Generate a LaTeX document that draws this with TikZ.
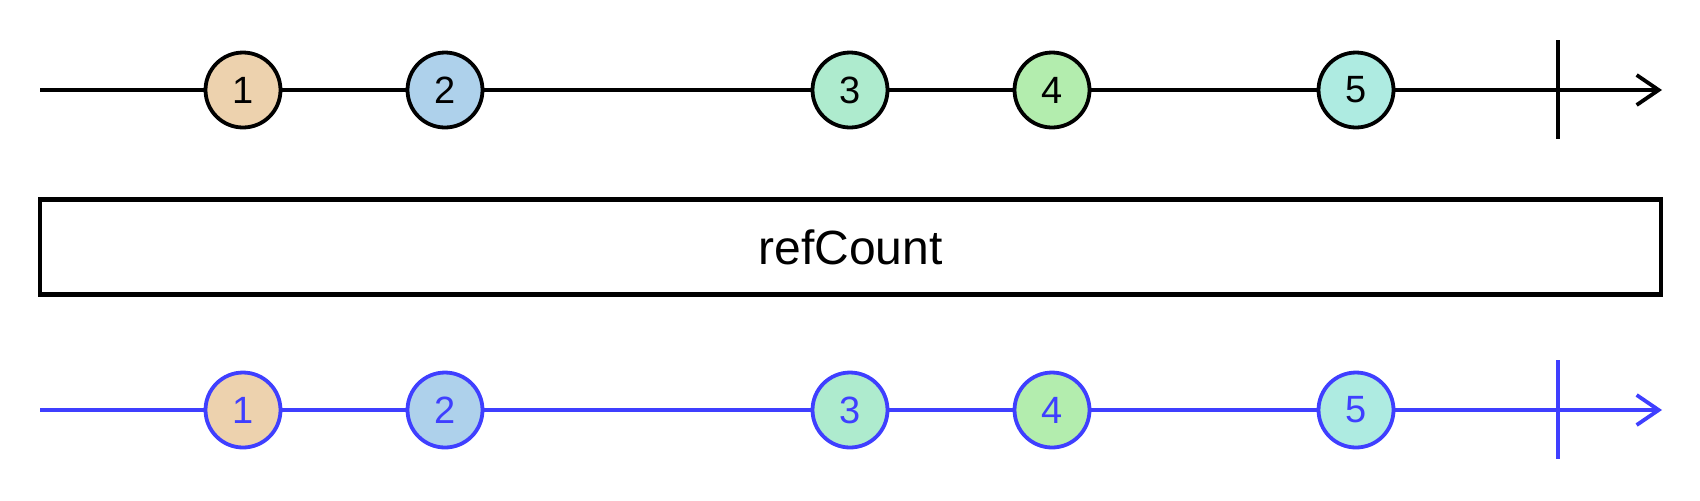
\documentclass[tikz,border=0pt]{standalone}
\usepackage{fontspec}
\setmainfont{Liberation Sans}
\usetikzlibrary{arrows.meta}
\definecolor{cA}{HTML}{EDD2AE}
\definecolor{cB}{HTML}{AED1EB}
\definecolor{cC}{HTML}{AEEBCE}
\definecolor{cD}{HTML}{B3EDAE}
\definecolor{cE}{HTML}{AEEBE1}
\definecolor{outblue}{HTML}{3F3FFF}
\tikzset{
  marble/.style={circle, draw=#1, line width=1.9pt, minimum size=37.5pt, inner sep=0pt, font=\fontsize{19}{19}\selectfont, text=#1},
  timeline/.style={draw=#1, line width=1.9pt, -{Straight Barb[length=11pt,width=15pt,line width=1.9pt]}},
  termline/.style={draw=#1, line width=1.9pt},
  opbox/.style={draw=black, line width=2.1pt, minimum width=810.5pt, minimum height=47.5pt, inner sep=0pt, font=\fontsize{24}{24}\selectfont}
}
\begin{document}
\begin{tikzpicture}[x=0.5pt,y=-0.5pt]
\useasboundingbox (0,0) rectangle (1700,500);
% top timeline
\coordinate (s1) at (40,90);
\coordinate (e1) at (1662,90);
\draw[timeline=black] (s1) -- (e1);
\coordinate (t1a) at (1558,40);
\coordinate (t1b) at (1558,139);
\draw[termline=black] (t1a) -- (t1b);
\node[marble=black, fill=cA] (a1) at (243,90) {1};
\node[marble=black, fill=cB] (a2) at (445,90) {2};
\node[marble=black, fill=cC] (a3) at (850,90) {3};
\node[marble=black, fill=cD] (a4) at (1052,90) {4};
\node[marble=black, fill=cE] (a5) at (1356,90) {5};
% operator box
\node[opbox] (op) at (850.5,247) {refCount};
% bottom timeline
\coordinate (s2) at (40,410);
\coordinate (e2) at (1662,410);
\draw[timeline=outblue] (s2) -- (e2);
\coordinate (t2a) at (1558,360);
\coordinate (t2b) at (1558,459);
\draw[termline=outblue] (t2a) -- (t2b);
\node[marble=outblue, fill=cA] (b1) at (243,410) {1};
\node[marble=outblue, fill=cB] (b2) at (445,410) {2};
\node[marble=outblue, fill=cC] (b3) at (850,410) {3};
\node[marble=outblue, fill=cD] (b4) at (1052,410) {4};
\node[marble=outblue, fill=cE] (b5) at (1356,410) {5};
\end{tikzpicture}
\end{document}
